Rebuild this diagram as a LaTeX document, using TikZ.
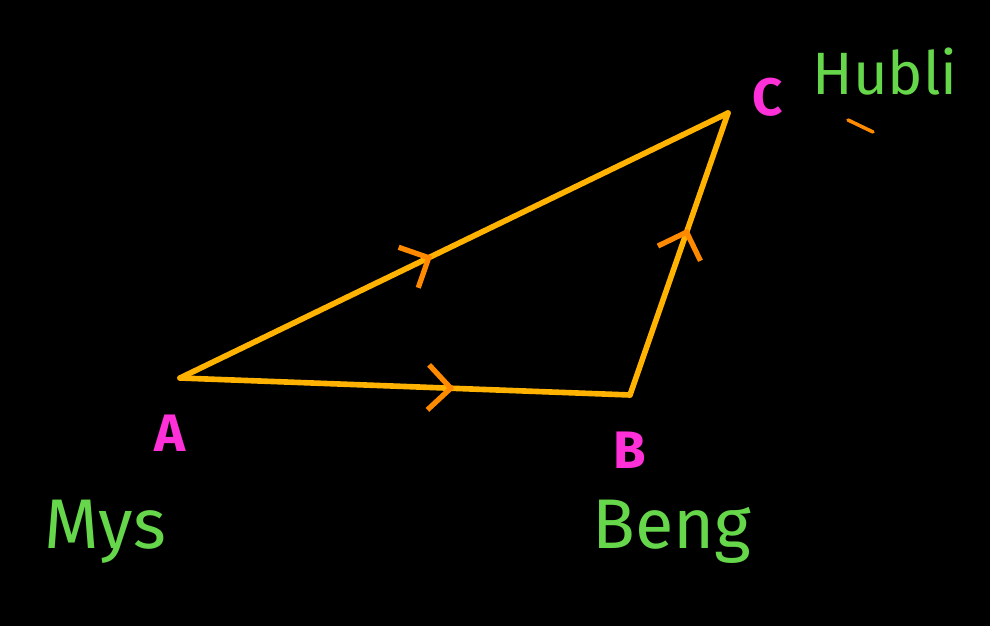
\documentclass[tikz,border=0pt]{standalone}
\usepackage{fontspec}
\setmainfont{Fira Sans}
\usetikzlibrary{arrows.meta,decorations.markings}

\definecolor{bgBlack}{HTML}{000000}
\definecolor{lineYel}{HTML}{FFB300}
\definecolor{tipOra}{HTML}{FF8A00}
\definecolor{labMag}{HTML}{FF30D8}
\definecolor{cityGrn}{HTML}{66D64A}

\begin{document}
\begin{tikzpicture}[
    x=0.2mm, y=-0.2mm,
    side/.style={lineYel, line width=3.2pt, line cap=round, line join=round},
    flow/.style={postaction={decorate}, decoration={markings,
                 mark=at position #1 with {\arrow[tipOra, line width=3pt]{Straight Barb[length=4.5mm, width=9mm]}}}},
    vlbl/.style={text=labMag, font=\fontsize{30}{34}\selectfont\bfseries},
    city/.style={text=cityGrn, font=\fontsize{40}{44}\selectfont},
]

% --- background ---
\fill[bgBlack] (0,0) rectangle (990,626);
\useasboundingbox (0,0) rectangle (990,626);

% --- vertices ---
\coordinate (A) at (180,378);
\coordinate (B) at (630,395);
\coordinate (C) at (728,113);

% --- sides with direction marks ---
\draw[side, flow=0.46] (A) -- (C);
\draw[side, flow=0.61] (A) -- (B);
\draw[side, flow=0.59] (B) -- (C);

% --- vertex letters ---
\node[vlbl] (labA) at (170,433) {A};
\node[vlbl] (labB) at (630,450) {B};
\node[vlbl] (labC) at (768,97) {C};

% --- city names ---
\node[city] (mys) at (105,532) {Mys};
\node[city] (beng) at (672,532) {Beng};
\node[city, font=\fontsize{34}{38}\selectfont] (hubli) at (885,72) {Hubli};

% small tick under Hubli
\draw[tipOra, line width=2pt, line cap=round] (848,120) -- (873,132);

\end{tikzpicture}
\end{document}
